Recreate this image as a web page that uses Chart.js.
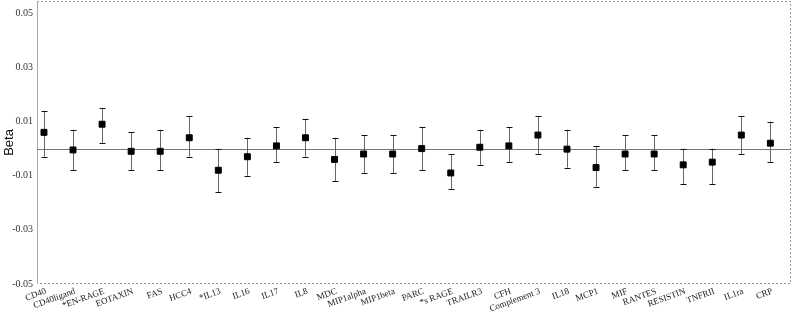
<!DOCTYPE html>
<html>
<head>
<meta charset="utf-8">
<script src="https://cdn.jsdelivr.net/npm/chart.js@4.4.0/dist/chart.umd.min.js"></script>
<style>
  html, body { margin: 0; padding: 0; background: #fff; }
  #wrap { width: 793px; height: 315px; }
</style>
</head>
<body>
<div id="wrap"><canvas id="betaChart"></canvas></div>
<script>
// markers along the x axis
const markers = ['CD40', 'CD40ligand', '*EN-RAGE', 'EOTAXIN', 'FAS', 'HCC4', '*IL13', 'IL16', 'IL17', 'IL8',
  'MDC', 'MIP1alpha', 'MIP1beta', 'PARC', '*s RAGE', 'TRAILR3', 'CFH', 'Complement 3', 'IL18', 'MCP1',
  'MIF', 'RANTES', 'RESISTIN', 'TNFRII', 'IL1ra', 'CRP'];

// beta estimates + CI bounds
const beta = [0.006, -0.0005, 0.009, -0.001, -0.001, 0.004, -0.008, -0.003, 0.001, 0.004,
  -0.004, -0.002, -0.002, 0, -0.009, 0.0005, 0.001, 0.005, -0.0002, -0.007,
  -0.002, -0.002, -0.006, -0.005, 0.005, 0.002];
const upper = [0.014, 0.007, 0.015, 0.006, 0.007, 0.012, 0, 0.004, 0.008, 0.011,
  0.004, 0.005, 0.005, 0.008, -0.002, 0.007, 0.008, 0.012, 0.007, 0.001,
  0.005, 0.005, 0, 0, 0.012, 0.010];
const lower = [-0.003, -0.008, 0.002, -0.008, -0.008, -0.003, -0.016, -0.010, -0.005, -0.003,
  -0.012, -0.009, -0.009, -0.008, -0.015, -0.006, -0.005, -0.002, -0.007, -0.014,
  -0.008, -0.008, -0.013, -0.013, -0.002, -0.005];

const yTicks = [-0.05, -0.03, -0.01, 0.01, 0.03, 0.05];

const serif = "'Liberation Serif', 'Times New Roman', serif";

// frame, zero line and error bars
const errorBars = {
  id: 'errorBars',
  beforeDatasetsDraw(chart) {
    const { ctx, chartArea: a, scales: { x, y } } = chart;
    ctx.save();
    ctx.lineWidth = 1;

    // dashed frame top/right/bottom
    ctx.strokeStyle = '#999';
    ctx.setLineDash([2, 2]);
    ctx.beginPath();
    ctx.moveTo(a.left, a.top + 0.5);
    ctx.lineTo(a.right - 0.5, a.top + 0.5);
    ctx.lineTo(a.right - 0.5, a.bottom - 0.5);
    ctx.lineTo(a.left, a.bottom - 0.5);
    ctx.stroke();
    ctx.setLineDash([]);

    // left axis
    ctx.strokeStyle = '#aaa';
    ctx.beginPath();
    ctx.moveTo(a.left + 0.5, a.top);
    ctx.lineTo(a.left + 0.5, a.bottom);
    ctx.stroke();

    // zero line
    const y0 = Math.round(y.getPixelForValue(0)) + 0.5;
    ctx.strokeStyle = '#777';
    ctx.beginPath();
    ctx.moveTo(a.left, y0);
    ctx.lineTo(a.right, y0);
    ctx.stroke();

    beta.forEach((b, i) => {
      const px = Math.round(x.getPixelForValue(i)) + 0.5;
      const top = y.getPixelForValue(upper[i]);
      const bot = y.getPixelForValue(lower[i]);
      ctx.strokeStyle = '#666';
      ctx.beginPath();
      ctx.moveTo(px, top);
      ctx.lineTo(px, bot);
      ctx.stroke();
      ctx.strokeStyle = '#111';
      ctx.beginPath();
      ctx.moveTo(px - 3, Math.round(top) + 0.5);
      ctx.lineTo(px + 3, Math.round(top) + 0.5);
      ctx.moveTo(px - 3, Math.round(bot) + 0.5);
      ctx.lineTo(px + 3, Math.round(bot) + 0.5);
      ctx.stroke();
    });
    ctx.restore();
  }
};

new Chart(document.getElementById('betaChart'), {
  type: 'scatter',
  data: {
    datasets: [{
      label: 'Beta',
      data: beta.map((b, i) => ({ x: i, y: b })),
      pointStyle: 'rect',
      pointRadius: 4.2,
      pointBorderWidth: 1,
      backgroundColor: '#000',
      borderColor: '#000'
    }]
  },
  plugins: [errorBars],
  options: {
    responsive: true,
    maintainAspectRatio: false,
    animation: false,
    layout: { autoPadding: false, padding: { top: 1, right: 2, left: 0, bottom: 0 } },
    plugins: { legend: { display: false }, tooltip: { enabled: false } },
    scales: {
      x: {
        type: 'linear',
        min: -0.24,
        max: 25.71,
        grid: { display: false, drawTicks: false },
        border: { display: false },
        afterFit: s => {
          s.height = 31;
          s.paddingLeft = 0;
          s.paddingRight = 0;
        },
        ticks: {
          stepSize: 1,
          includeBounds: false,
          autoSkip: false,
          minRotation: 20,
          maxRotation: 20,
          padding: 2,
          labelOffset: 2,
          color: '#222',
          font: { family: serif, size: 9 },
          callback: v => Number.isInteger(v) ? markers[v] : ''
        }
      },
      y: {
        min: -0.05,
        max: 0.0545,
        grid: { display: false, drawTicks: false },
        border: { display: false },
        afterFit: s => {
          s.width = 37;
          s.paddingTop = 0;
          s.paddingBottom = 0;
        },
        afterBuildTicks: s => { s.ticks = yTicks.map(v => ({ value: v })); },
        title: {
          display: true,
          text: 'Beta',
          color: '#111',
          padding: { top: 2, bottom: 0 },
          font: { family: "'Liberation Sans', Arial, sans-serif", size: 13 }
        },
        ticks: {
          padding: 4,
          color: '#333',
          font: { family: serif, size: 10 },
          callback: v => String(v)
        }
      }
    }
  }
});
</script>
</body>
</html>
